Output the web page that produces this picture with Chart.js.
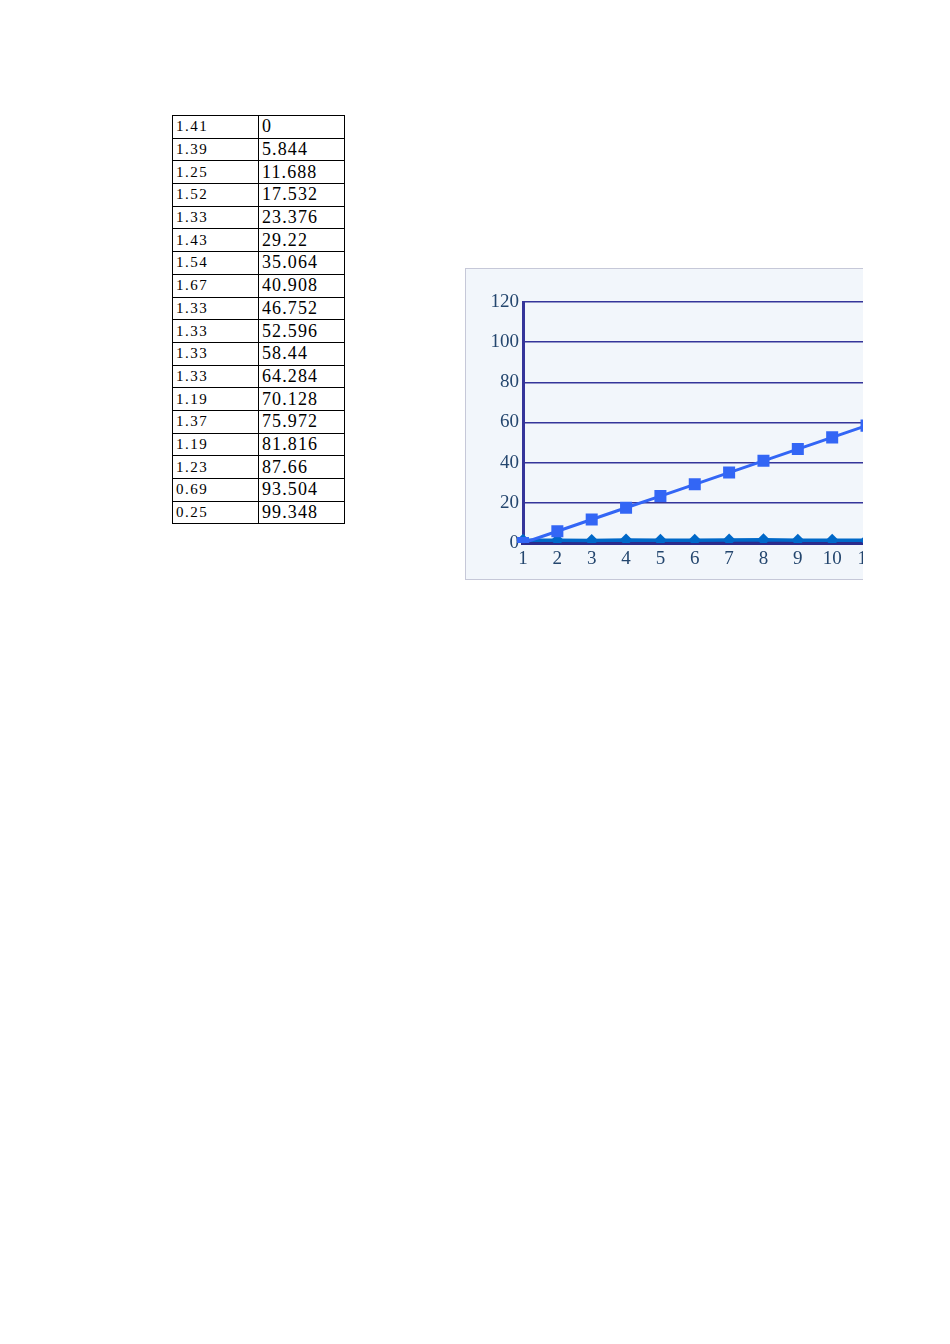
<!DOCTYPE html>
<html>
<head>
<meta charset="utf-8">
<script src="https://cdn.jsdelivr.net/npm/chart.js@4"></script>
<style>
  html, body { margin: 0; padding: 0; background: #ffffff; }
  body { width: 950px; height: 1344px; position: relative; overflow: hidden; }
  #tbl { position: absolute; left: 172px; top: 115px; border-collapse: collapse; font-family: "Liberation Serif", "DejaVu Serif", serif; color: #000; }
  #tbl td { border: 1px solid #000; height: 21.7px; padding: 0 0 0 3px; line-height: 21px; vertical-align: middle; white-space: nowrap; }
  #tbl td.a { width: 82px; font-size: 15px; letter-spacing: 1.5px; }
  #tbl td.b { width: 82px; font-size: 18px; letter-spacing: 1.1px; }
  #box { position: absolute; left: 465px; top: 268px; width: 397px; height: 310px; overflow: hidden;
         background: #f2f6fb; border-left: 1px solid #c6c8d8; border-top: 1px solid #c6c8d8; border-bottom: 1px solid #c6c8d8; }
  #inner { position: absolute; left: 0; top: 0; width: 700px; height: 310px; }
</style>
</head>
<body>
<table id="tbl"><tbody id="tb"></tbody></table>
<div id="box"><div id="inner"><canvas id="c" width="700" height="310"></canvas></div></div>
<script>
const categories = ["1","2","3","4","5","6","7","8","9","10","11","12","13","14","15","16","17","18"];
const seriesA = [1.41, 1.39, 1.25, 1.52, 1.33, 1.43, 1.54, 1.67, 1.33, 1.33, 1.33, 1.33, 1.19, 1.37, 1.19, 1.23, 0.69, 0.25];
const seriesB = [0, 5.844, 11.688, 17.532, 23.376, 29.22, 35.064, 40.908, 46.752, 52.596, 58.44, 64.284, 70.128, 75.972, 81.816, 87.66, 93.504, 99.348];
const tableColA = ["1.41","1.39","1.25","1.52","1.33","1.43","1.54","1.67","1.33","1.33","1.33","1.33","1.19","1.37","1.19","1.23","0.69","0.25"];
const tableColB = ["0","5.844","11.688","17.532","23.376","29.22","35.064","40.908","46.752","52.596","58.44","64.284","70.128","75.972","81.816","87.66","93.504","99.348"];
const yTicks = [0, 20, 40, 60, 80, 100, 120];

const tb = document.getElementById('tb');
tableColA.forEach((a, i) => {
  const tr = document.createElement('tr');
  const t1 = document.createElement('td'); t1.className = 'a'; t1.textContent = a;
  const t2 = document.createElement('td'); t2.className = 'b'; t2.textContent = tableColB[i];
  tr.appendChild(t1); tr.appendChild(t2); tb.appendChild(tr);
});

const labelColor = '#24466e';
const gridColor = '#35359a';
new Chart(document.getElementById('c'), {
  type: 'line',
  data: {
    labels: categories,
    datasets: [
      { label: 'B', data: seriesB, borderColor: '#3366f5', backgroundColor: '#3366f5', borderWidth: 3,
        pointStyle: 'rect', pointRadius: 8.5, pointBorderWidth: 0, tension: 0, order: 1 },
      { label: 'A', data: seriesA, borderColor: '#0068c8', backgroundColor: '#0068c8', borderWidth: 3.5,
        pointStyle: 'rectRot', pointRadius: 6.5, pointBorderWidth: 0, tension: 0, order: 2 }
    ]
  },
  options: {
    responsive: false,
    animation: false,
    events: [],
    layout: { padding: { top: 33, left: 0, right: 59, bottom: 0 } },
    plugins: { legend: { display: false }, tooltip: { enabled: false } },
    scales: {
      x: {
        type: 'category',
        offset: false,
        grid: { display: false, drawTicks: false },
        border: { display: true, color: '#2b2b8c', width: 4 },
        ticks: { color: labelColor, font: { family: 'Liberation Serif', size: 19 }, padding: 5, maxRotation: 0, autoSkip: false },
        afterFit: (s) => { s.height = 36; }
      },
      y: {
        min: 0, max: 120,
        afterBuildTicks: (s) => { s.ticks = yTicks.map(v => ({ value: v })); },
        grid: { color: gridColor, lineWidth: 1.6, drawTicks: false },
        border: { display: true, color: '#35359a', width: 3 },
        ticks: { color: labelColor, font: { family: 'Liberation Serif', size: 19 }, padding: 4 },
        afterFit: (s) => { s.width = 57; }
      }
    }
  }
});
</script>
</body>
</html>
